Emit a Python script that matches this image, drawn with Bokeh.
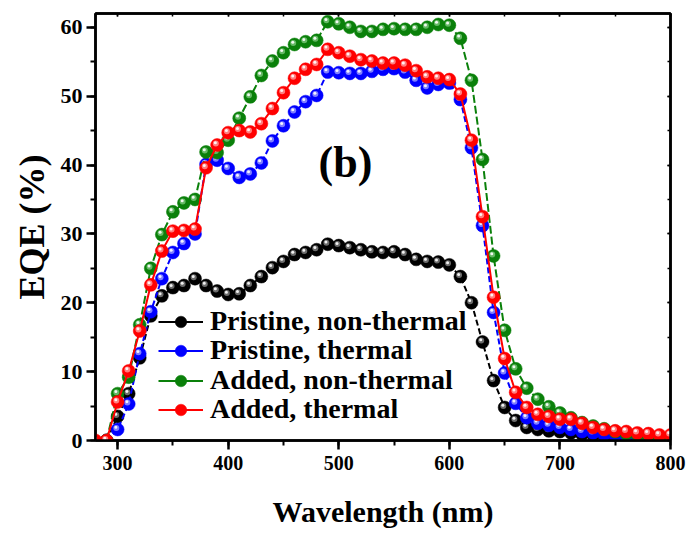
from bokeh.plotting import figure
from bokeh.models import (ColumnDataSource, Legend, LegendItem, LinearAxis,
                          SingleIntervalTicker, Label, CustomJSTickFormatter, Range1d)
from bokeh.transform import dodge
from bokeh.embed import file_html
from bokeh.resources import INLINE

# ---------------- data ----------------
wl_full = list(range(280, 810, 10))          # 280 .. 800 nm
wl = list(range(290, 810, 10))               # 290 .. 800 nm

pristine_nonthermal = [0.0, 3.5, 6.8, 12.0, 18.1, 21.0, 22.2, 22.5, 23.5, 22.5, 21.7,
                       21.2, 21.3, 22.5, 23.8, 25.1, 26.0, 27.0, 27.3, 27.7, 28.5,
                       28.3, 28.0, 27.7, 27.4, 27.3, 27.4, 27.0, 26.3, 26.0, 25.9,
                       25.5, 23.8, 20.0, 14.3, 8.7, 4.8, 2.9, 1.9, 1.6, 1.4,
                       1.3, 1.1, 0.9, 0.8, 0.7, 0.6, 0.5, 0.4, 0.4, 0.3, 0.3, 0.3]

pristine_thermal = [0.0, 1.6, 5.3, 12.6, 18.7, 23.5, 27.3, 28.6, 30.0, 40.1, 40.7,
                    39.5, 38.2, 38.7, 40.3, 43.5, 45.7, 47.7, 49.2, 50.1, 53.5,
                    53.4, 53.3, 53.3, 53.6, 53.9, 54.0, 53.5, 52.3, 51.2, 51.7,
                    51.9, 49.5, 42.5, 31.2, 18.6, 9.8, 5.4, 3.3, 2.5, 2.2,
                    1.9, 1.6, 1.3, 1.1, 0.9, 0.7, 0.6, 0.5, 0.4, 0.4, 0.3, 0.3]

added_nonthermal = [0.0, 6.8, 9.2, 16.8, 25.0, 29.9, 33.2, 34.5, 35.0, 41.9, 41.8,
                    43.6, 46.8, 49.9, 53.0, 55.1, 56.3, 57.5, 57.9, 58.1, 60.8,
                    60.5, 60.0, 59.4, 59.4, 59.7, 59.8, 59.7, 59.7, 60.0, 60.4,
                    60.3, 58.4, 52.3, 40.8, 26.8, 16.0, 10.4, 7.6, 6.0, 4.9,
                    4.0, 3.3, 2.6, 2.1, 1.7, 1.3, 1.0, 0.8, 0.6, 0.5, 0.4, 0.4]

added_thermal = [0.0, 0.0, 5.6, 10.1, 15.9, 22.6, 27.5, 30.4, 30.5, 30.7, 39.6, 42.9,
                 44.7, 45.0, 44.8, 46.0, 48.2, 50.5, 52.6, 53.9, 54.6, 56.8,
                 56.3, 55.8, 55.3, 55.1, 54.8, 54.8, 54.5, 53.7, 52.8, 52.6,
                 52.4, 50.3, 43.6, 32.5, 20.8, 11.9, 7.0, 4.8, 3.8, 3.5,
                 3.1, 3.1, 2.5, 1.9, 1.6, 1.4, 1.3, 1.1, 1.0, 0.8, 0.8]

series_labels = ["Pristine, non-thermal", "Pristine, thermal",
                 "Added, non-thermal", "Added, thermal"]
x_axis_title = "Wavelength (nm)"
y_axis_title = "EQE (%)"
panel_tag = "(b)"

# ---------------- figure ----------------
FONT = "Liberation Serif"

p = figure(width=692, height=535, output_backend="svg", toolbar_location=None,
           x_range=Range1d(280, 800), y_range=Range1d(0, 62),
           min_border_left=95, min_border_right=22, min_border_top=13,
           min_border_bottom=95, background_fill_color="white",
           border_fill_color="white")
p.grid.visible = False
p.outline_line_color = "black"
p.outline_line_width = 2.5

p.xaxis.ticker = SingleIntervalTicker(interval=100, num_minor_ticks=2)
p.yaxis.ticker = SingleIntervalTicker(interval=10, num_minor_ticks=2)

for ax in (p.xaxis[0], p.yaxis[0]):
    ax.axis_line_width = 2.5
    ax.major_tick_line_width = 2.5
    ax.minor_tick_line_width = 2
    ax.major_tick_in = 0
    ax.major_tick_out = 9
    ax.minor_tick_in = 0
    ax.minor_tick_out = 5
    ax.major_label_text_font = FONT
    ax.major_label_text_font_style = "bold"
    ax.major_label_text_font_size = "20px"
    ax.major_label_text_color = "black"
    ax.axis_label_text_font = FONT
    ax.axis_label_text_font_style = "bold"
    ax.axis_label_text_color = "black"

p.xaxis.axis_label = x_axis_title
p.yaxis.axis_label = y_axis_title
p.xaxis.axis_label_text_font_size = "30px"
p.yaxis.axis_label_text_font_size = "36px"
p.yaxis.major_label_text_font_size = "22px"
p.xaxis.major_label_standoff = 6
p.yaxis.major_label_standoff = 4
p.xaxis.axis_label_standoff = 22
p.yaxis.axis_label_standoff = 6

blank = CustomJSTickFormatter(code="return ''")
top = LinearAxis(ticker=SingleIntervalTicker(interval=100, num_minor_ticks=2),
                 formatter=blank)
right = LinearAxis(ticker=SingleIntervalTicker(interval=10, num_minor_ticks=2),
                   formatter=blank)
for ax in (top, right):
    ax.axis_line_width = 2.5
    ax.major_tick_in = 3
    ax.major_tick_out = 0
    ax.minor_tick_in = 3
    ax.minor_tick_out = 0
    ax.major_tick_line_width = 1.5
    ax.minor_tick_line_width = 1.5
    ax.major_label_text_font_size = "1px"
p.add_layout(top, "above")
p.add_layout(right, "right")

colors = ["black", "#0000ff", "#0a800a", "#ff0000"]
dashes = ["6 3", "6 3", "8 3", "solid"]
hi_mid = ["#777777", "#8c8cff", "#6fbf6f", "#ff8c8c"]
data = [(wl, pristine_nonthermal), (wl, pristine_thermal),
        (wl, added_nonthermal), (wl_full, added_thermal)]

nan = float("nan")
n_items = len(series_labels)
for k, ((xs, ys), c, d, hm, lab) in enumerate(zip(data, colors, dashes, hi_mid,
                                                  series_labels)):
    src = ColumnDataSource(dict(x=xs, y=ys))
    p.line("x", "y", source=src, line_color=c, line_width=2, line_dash=d)
    ball = p.scatter("x", "y", source=src, size=13, fill_color=c, line_color=c,
                     line_width=0.5)
    p.scatter(x=dodge("x", -1.2, range=p.x_range), y=dodge("y", 0.22, range=p.y_range),
              source=src, size=6, fill_color=hm, line_color=None, fill_alpha=0.9)
    p.scatter(x=dodge("x", -1.6, range=p.x_range), y=dodge("y", 0.32, range=p.y_range),
              source=src, size=3, fill_color="white", line_color=None, fill_alpha=0.9)
    # legend-only solid line (a single NaN point draws nothing in the plot)
    key_line = p.line(x=[nan], y=[nan], line_color=c, line_width=2)
    row = Legend(items=[LegendItem(label=lab, renderers=[key_line, ball])],
                 location=(63, round(15 + (n_items - 1 - k) * 29.3)),
                 padding=0, margin=0, spacing=0,
                 glyph_width=45, glyph_height=29, label_standoff=7,
                 label_text_font=FONT, label_text_font_style="bold",
                 label_text_font_size="28px", label_text_color="black",
                 border_line_color=None, background_fill_alpha=0)
    p.add_layout(row, "center")

tag = Label(x=506, y=40.3, text=panel_tag, text_font=FONT, text_font_style="bold",
            text_font_size="44px", text_align="center", text_baseline="middle",
            text_color="black")
p.add_layout(tag)

open("out.html", "w").write(file_html(p, INLINE))
